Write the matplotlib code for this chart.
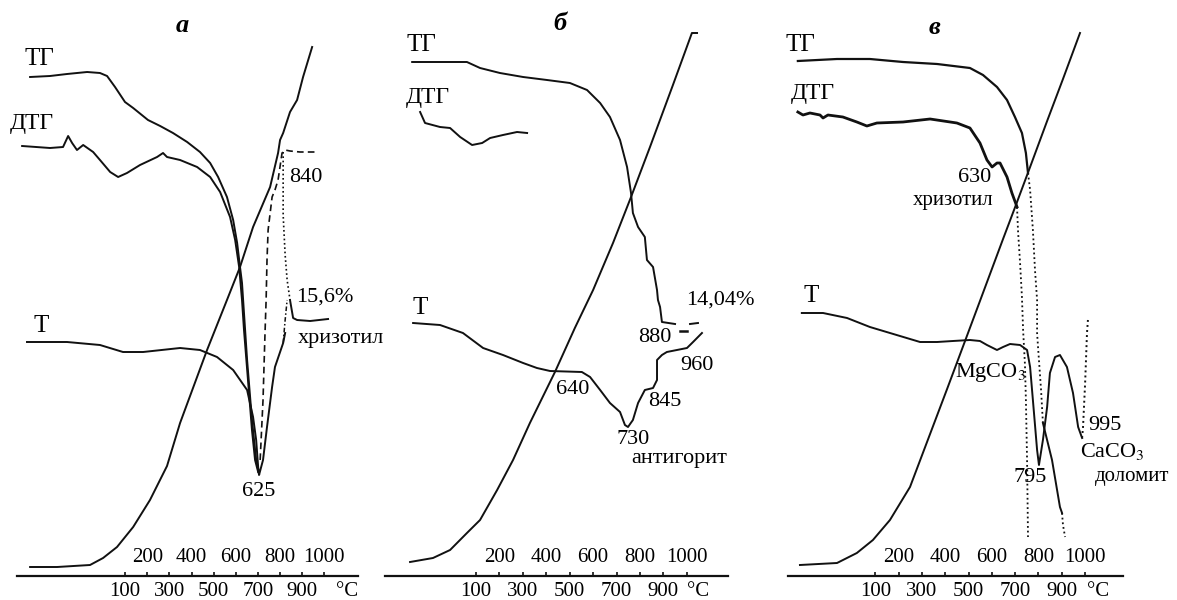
import matplotlib
matplotlib.use('Agg')
import matplotlib.pyplot as plt

plt.rcParams['font.family'] = ['Liberation Serif', 'DejaVu Serif']
plt.rcParams['mathtext.fontset'] = 'stix'

# шкала температуры (°C), общая для всех трёх термограмм
ticks = [100, 200, 300, 400, 500, 600, 700, 800, 900, 1000]
upper_labels = [200, 400, 600, 800, 1000]
lower_labels = [100, 300, 500, 700, 900]

# ---------------- а : хризотил ----------------
a_tg_t = [-330, -240, -163, -72, -14, 18, 54, 99, 136, 203, 258, 316, 380, 438, 484, 520, 560, 588, 606, 619, 628, 633, 651, 673, 692, 705]
a_tg_y = [523, 524, 526, 528, 527, 524, 513, 498, 492, 480, 474, 467, 458, 448, 437, 423, 403, 380, 357, 333, 317, 300, 240, 180, 140, 126]
a_tg_end_t = [845, 859, 877, 936, 1017]
a_tg_end_y = [300, 282, 280, 279, 281]
a_dtg_t = [-366, -240, -181, -158, -140, -118, -90, -45, -14, 32, 68, 108, 167, 244, 271, 289, 348, 425, 484, 529, 574, 597, 615, 628, 637, 655, 673, 687, 701]
a_dtg_y = [454, 452, 453, 464, 457, 450, 455, 448, 440, 428, 423, 427, 435, 443, 447, 443, 440, 433, 423, 408, 383, 360, 333, 300, 270, 220, 170, 140, 128]
a_dta_t = [-344, -163, -14, 90, 181, 348, 438, 515, 588, 651, 678, 692, 701, 705, 723, 741, 764, 777, 814, 823]
a_dta_y = [258, 258, 255, 248, 248, 252, 250, 243, 230, 210, 183, 160, 133, 125, 140, 173, 213, 233, 257, 267]
a_dashdot_t = [814, 823, 832]
a_dashdot_y = [257, 280, 300]
a_dash_t = [710, 723, 732, 737, 741, 746, 764, 777, 791, 809, 823, 845, 890, 963]
a_dash_y = [140, 200, 267, 300, 340, 370, 403, 410, 420, 447, 450, 449, 448, 448]
a_dot_t = [814, 814, 823, 832, 845]
a_dot_y = [448, 385, 345, 320, 300]
a_temp_t = [-330, -208, -59, 0, 63, 136, 212, 289, 348, 470, 560, 619, 678, 755, 791, 800, 814, 845, 877, 904, 945]
a_temp_y = [33, 33, 35, 42, 53, 73, 100, 134, 177, 250, 300, 333, 373, 413, 447, 460, 467, 488, 500, 523, 553]

# ---------------- б : антигорит ----------------
b_tg_t = [-173, 61, 117, 202, 301, 403, 501, 574, 630, 672, 715, 745, 762, 770, 792, 821, 830, 856, 873, 877, 886, 894, 950]
b_tg_y = [538, 538, 532, 527, 523, 520, 517, 510, 497, 483, 460, 433, 407, 387, 373, 363, 340, 333, 310, 300, 293, 278, 276]
b_tg_frag1_t = [1014, 1048]
b_tg_frag1_y = [276, 277]
b_tg_frag2_t = [971, 1001]
b_tg_frag2_y = [269, 269]
b_dtg_t = [-139, -118, -54, -11, 32, 83, 126, 160, 215, 275, 318]
b_dtg_y = [488, 477, 473, 472, 463, 455, 457, 462, 465, 468, 467]
b_dta_t = [-169, -54, 44, 130, 215, 301, 360, 416, 552, 587, 630, 672, 715, 736, 749, 770, 792, 821, 856, 873, 873, 894, 915, 958, 1001, 1027, 1065]
b_dta_y = [277, 275, 267, 252, 245, 237, 232, 229, 228, 223, 210, 197, 188, 175, 173, 180, 197, 210, 212, 220, 240, 245, 248, 250, 252, 258, 267]
b_temp_t = [-182, -84, -11, 61, 117, 190, 258, 330, 437, 522, 600, 685, 762, 843, 941, 1022, 1044]
b_temp_y = [38, 42, 50, 67, 80, 110, 140, 177, 228, 272, 310, 357, 403, 453, 515, 567, 567]

# ---------------- в : доломит + хризотил ----------------
c_tg_t = [-232, -64, 77, 219, 365, 506, 562, 622, 665, 699, 729, 746, 755]
c_tg_y = [539, 541, 541, 538, 536, 532, 525, 513, 500, 483, 467, 447, 427]
c_tg_dot_t = [755, 764, 776, 785, 794, 794, 798, 811, 819]
c_tg_dot_y = [427, 410, 370, 330, 300, 267, 253, 210, 177]
c_tg_low_t = [819, 858, 892, 901]
c_tg_low_y = [177, 140, 93, 87]
c_tg_low_dot_t = [901, 905, 914]
c_tg_low_dot_y = [87, 75, 63]
c_dtg_t = [-232, -210, -180, -137, -124, -103, -39, 21, 64, 107, 219, 335, 450, 506, 549, 579, 601, 622, 635, 665, 686, 708]
c_dtg_y = [488, 485, 487, 485, 482, 485, 483, 478, 474, 477, 478, 481, 477, 472, 457, 440, 433, 437, 437, 423, 407, 393]
c_dtg_dot_t = [708, 712, 721, 729, 734, 742, 746, 751, 755]
c_dtg_dot_y = [393, 370, 337, 303, 270, 235, 200, 140, 63]
c_dta_t = [-215, -124, -21, 77, 163, 292, 365, 433, 506, 549, 579, 622, 648, 678, 721, 751, 764, 776, 794, 802, 819, 837, 849, 871, 892, 922, 948, 970, 987]
c_dta_y = [287, 287, 282, 273, 267, 258, 258, 259, 260, 259, 255, 250, 253, 256, 255, 250, 233, 200, 150, 135, 160, 193, 227, 243, 245, 233, 207, 173, 162]
c_dta_dot_t = [987, 991, 1000, 1008, 1012]
c_dta_dot_y = [162, 173, 217, 267, 280]
c_temp_t = [-223, -64, 21, 90, 163, 249, 335, 408, 485, 549, 648, 708, 764, 837, 905, 978]
c_temp_y = [35, 37, 47, 60, 80, 113, 166, 211, 259, 299, 361, 398, 433, 479, 521, 567]

INK = '#111111'
DASH = (0, (4, 2.5))
DOT = (0, (1, 1.6))
DASHDOT = (0, (3, 1.5, 1, 1.5))

fig = plt.figure(figsize=(11.77, 6.0), dpi=100)


def panel(rect, xlim, axis_span, celsius_x):
    ax = fig.add_axes(rect)
    ax.set_xlim(*xlim)
    ax.set_ylim(0, 600)
    ax.axis('off')
    ax.patch.set_alpha(0)
    ax.plot(axis_span, [24, 24], color=INK, lw=1.6, clip_on=False)
    ax.vlines(ticks, 24, 28, color=INK, lw=1.2)
    for v in upper_labels:
        ax.text(v, 43, str(v), ha='center', va='center', fontsize=15)
    for v in lower_labels:
        ax.text(v, 8, str(v), ha='center', va='center', fontsize=15)
    ax.text(celsius_x, 8, '°C', ha='center', va='center', fontsize=15)
    return ax


def line(ax, t, y, ls='-', lw=1.4):
    ax.plot(t, y, color=INK, lw=lw, ls=ls, solid_joinstyle='round', clip_on=False)


# а
ax = panel([0, 0, 390 / 1177, 1], (-466, 1297), [-389, 1153], 1103)
line(ax, a_temp_t, a_temp_y)
line(ax, a_tg_t, a_tg_y)
line(ax, a_tg_end_t, a_tg_end_y)
line(ax, a_dtg_t, a_dtg_y)
line(ax, a_dta_t, a_dta_y)
line(ax, a_dashdot_t, a_dashdot_y, DASHDOT, 1.1)
line(ax, a_dash_t, a_dash_y, DASH, 1.2)
line(ax, a_dot_t, a_dot_y, DOT, 1.2)
ax.text(357, 575, 'а', ha='center', va='center', fontsize=19, fontweight='bold', style='italic')
ax.text(-289, 541, 'ТГ', ha='center', va='center', fontsize=18)
ax.text(-321, 476, 'ДТГ', ha='center', va='center', fontsize=17)
ax.text(-280, 274, 'Т', ha='center', va='center', fontsize=18)
ax.text(918, 422, '840', ha='center', va='center', fontsize=16)
ax.text(1003, 303, '15,6%', ha='center', va='center', fontsize=16)
ax.text(1076, 261, 'хризотил', ha='center', va='center', fontsize=16)
ax.text(705, 108, '625', ha='center', va='center', fontsize=16)

# б
ax = panel([385 / 1177, 0, 390 / 1177, 1], (-289, 1377), [-288, 1177], 1050)
line(ax, b_temp_t, b_temp_y)
line(ax, b_tg_t, b_tg_y)
line(ax, b_tg_frag1_t, b_tg_frag1_y)
line(ax, b_tg_frag2_t, b_tg_frag2_y, lw=1.8)
line(ax, b_dtg_t, b_dtg_y)
line(ax, b_dta_t, b_dta_y)
ax.text(459, 577, 'б', ha='center', va='center', fontsize=19, fontweight='bold', style='italic')
ax.text(-135, 555, 'ТГ', ha='center', va='center', fontsize=18)
ax.text(-105, 503, 'ДТГ', ha='center', va='center', fontsize=17)
ax.text(-139, 292, 'Т', ha='center', va='center', fontsize=18)
ax.text(514, 210, '640', ha='center', va='center', fontsize=16)
ax.text(770, 160, '730', ha='center', va='center', fontsize=16)
ax.text(967, 141, 'антигорит', ha='center', va='center', fontsize=16)
ax.text(907, 199, '845', ha='center', va='center', fontsize=16)
ax.text(1044, 234, '960', ha='center', va='center', fontsize=16)
ax.text(864, 263, '880', ha='center', va='center', fontsize=16)
ax.text(1143, 300, '14,04%', ha='center', va='center', fontsize=16)

# в
ax = panel([775 / 1177, 0, 402 / 1177, 1], (-330, 1394), [-275, 1163], 1055)
line(ax, c_temp_t, c_temp_y)
line(ax, c_tg_t, c_tg_y, lw=1.6)
line(ax, c_tg_dot_t, c_tg_dot_y, DOT, 1.3)
line(ax, c_tg_low_t, c_tg_low_y)
line(ax, c_tg_low_dot_t, c_tg_low_dot_y, DOT, 1.3)
line(ax, c_dtg_t, c_dtg_y, lw=2.0)
line(ax, c_dtg_dot_t, c_dtg_dot_y, DOT, 1.3)
line(ax, c_dta_t, c_dta_y)
line(ax, c_dta_dot_t, c_dta_dot_y, DOT, 1.4)
ax.text(356, 573, 'в', ha='center', va='center', fontsize=19, fontweight='bold', style='italic')
ax.text(-219, 555, 'ТГ', ha='center', va='center', fontsize=18)
ax.text(-167, 507, 'ДТГ', ha='center', va='center', fontsize=17)
ax.text(-176, 304, 'Т', ha='center', va='center', fontsize=18)
ax.text(528, 422, '630', ha='center', va='center', fontsize=16)
ax.text(433, 399, 'хризотил', ha='center', va='center', fontsize=15)
ax.text(592, 228, 'MgCO$_3$', ha='center', va='center', fontsize=16)
ax.text(764, 122, '795', ha='center', va='center', fontsize=16)
ax.text(1085, 175, '995', ha='center', va='center', fontsize=16)
ax.text(1115, 148, 'CaCO$_3$', ha='center', va='center', fontsize=16)
ax.text(1201, 123, 'доломит', ha='center', va='center', fontsize=15)

fig.savefig('out.png', dpi=100)
